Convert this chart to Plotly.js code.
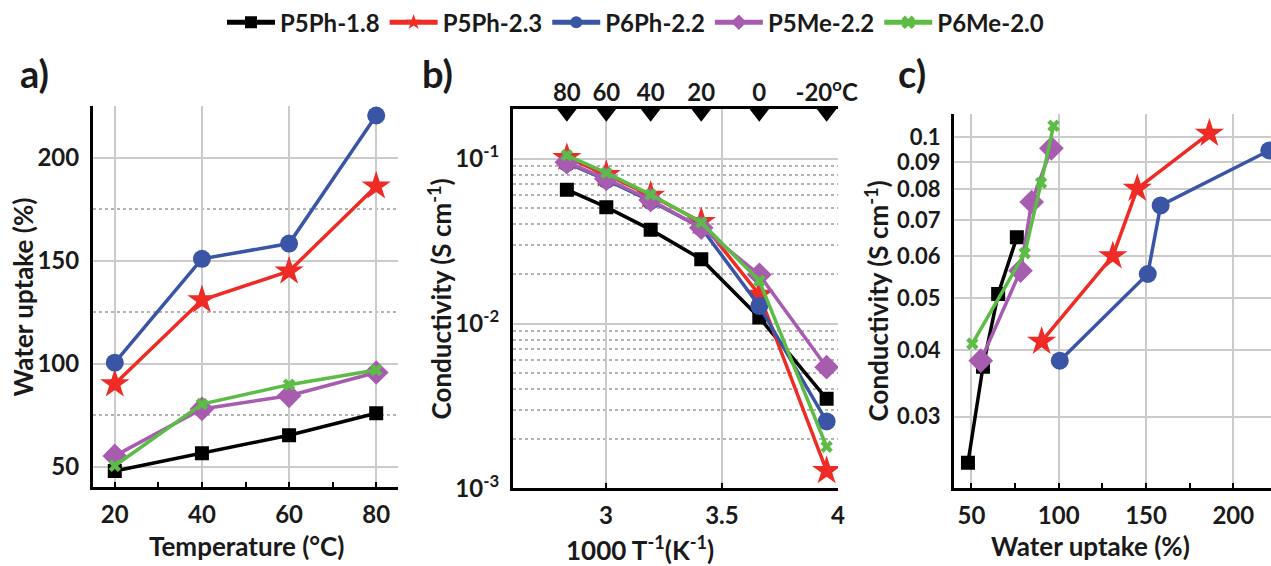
<!DOCTYPE html>
<html><head><meta charset="utf-8">
<script src="https://cdn.plot.ly/plotly-3.0.1.min.js"></script>
<style>html,body{margin:0;padding:0;background:#fff}#chart{width:1271px;height:566px}</style>
</head><body><div id="chart"></div>
<script>
// ---- data ----
const seriesNames = ['P5Ph-1.8', 'P5Ph-2.3', 'P6Ph-2.2', 'P5Me-2.2', 'P6Me-2.0'];

// panel a: water uptake (%) vs temperature (°C)
const tempA = [20, 40, 60, 80];
const uptakeP5Ph18 = [48, 56.6, 65.3, 76];
const uptakeP5Ph23 = [90.2, 131, 145, 186.3];
const uptakeP6Ph22 = [100.6, 151, 158.4, 220.6];
const uptakeP5Me22 = [55.3, 78.1, 84.5, 95.8];
const uptakeP6Me20 = [50.5, 80.5, 89.9, 97];

// panel b: conductivity (S/cm) vs 1000/T, temperatures 80,60,40,20,0,-20 °C
const tempB = [80, 60, 40, 20, 0, -20];
const invTB = [2.832, 3.002, 3.193, 3.411, 3.661, 3.951];
const condP5Ph18 = [0.065, 0.0509, 0.0372, 0.0246, 0.0109, 0.0035];
const condP5Ph23 = [0.1017, 0.0802, 0.060, 0.0415, 0.0150, 0.00128];
const condP6Ph22 = [0.0945, 0.0746, 0.0555, 0.0382, 0.0128, 0.00255];
const condP5Me22 = [0.0954, 0.0757, 0.0563, 0.0382, 0.0198, 0.00544];
const condP6Me20 = [0.1051, 0.0822, 0.0607, 0.0411, 0.0182, 0.00179];

// tick labels
const topTickText = ['80', '60', '40', '20', '0', '-20<sup>o</sup>C'];
const condTickValsB = [0.001, 0.01, 0.1];
const condTickTextB = ['10<sup>-3</sup>', '10<sup>-2</sup>', '10<sup>-1</sup>'];
const condTickValsC = [0.03, 0.04, 0.05, 0.06, 0.07, 0.08, 0.09, 0.1];
const condTickTextC = ['0.03', '0.04', '0.05', '0.06', '0.07', '0.08', '0.09', '0.1'];

// ---- styles ----
const FONT = 'Lato';
const colors = ['#000000', '#ee2b25', '#3a55a6', '#a85cb0', '#5cbc45'];
const symbols = ['square', 'star', 'circle', 'diamond', 'x'];
const sizes = [14, 22, 18, 19, 11];

const uptake = [uptakeP5Ph18, uptakeP5Ph23, uptakeP6Ph22, uptakeP5Me22, uptakeP6Me20];
const cond = [condP5Ph18, condP5Ph23, condP6Ph22, condP5Me22, condP6Me20];

const traces = [];
seriesNames.forEach((name, i) => {
  const line = {color: colors[i], width: 3.5};
  const marker = {symbol: symbols[i], size: sizes[i], color: colors[i], line: {width: 0}};
  traces.push({x: tempA, y: uptake[i], name: name, mode: 'lines+markers', line, marker,
    xaxis: 'x', yaxis: 'y', legendgroup: name, showlegend: true});
  traces.push({x: invTB, y: cond[i], name: name, mode: 'lines+markers', line, marker,
    xaxis: 'x2', yaxis: 'y2', legendgroup: name, showlegend: false});
  traces.push({x: uptake[i], y: cond[i].slice(0, 4).reverse(), name: name, mode: 'lines+markers', line, marker,
    xaxis: 'x3', yaxis: 'y3', legendgroup: name, showlegend: false});
});
// temperature markers on the top axis of panel b
traces.push({x: invTB, y: tempB.map(() => 0.99), mode: 'markers', xaxis: 'x4', yaxis: 'y4',
  marker: {symbol: 'triangle-down', size: 17, color: '#000'}, showlegend: false, cliponaxis: false, hoverinfo: 'skip'});

const W = 1271, H = 566;
const fx = (a, b) => [a / W, b / W];
const fy = (top, bot) => [1 - bot / H, 1 - top / H];

const gridMajor = {showgrid: true, gridcolor: '#cbcbcb', gridwidth: 2};
const minorGrid = {showgrid: true, griddash: 'dot', gridcolor: '#b3b3b3', gridwidth: 2};
const tickFont = {family: FONT, size: 24, color: '#1a1a1a', weight: 'bold'};
const axLine = {showline: true, linecolor: '#000', linewidth: 3, zeroline: false, automargin: false,
  ticks: 'inside', ticklen: 5, tickwidth: 2, tickcolor: '#000', tickfont: tickFont};

function ann(text, x, y, size, angle) {
  return {text: '<b>' + text + '</b>', x: x / W, y: 1 - y / H, xref: 'paper', yref: 'paper',
    xanchor: 'center', yanchor: 'middle', showarrow: false, textangle: angle || 0,
    font: {family: FONT, size: size, color: '#1a1a1a'}};
}

const layout = {
  width: W, height: H,
  margin: {l: 0, r: 0, t: 0, b: 0},
  paper_bgcolor: '#fff', plot_bgcolor: '#fff',
  font: {family: FONT, size: 24, color: '#1a1a1a', weight: 'bold'},
  showlegend: true,
  legend: {orientation: 'h', x: 0.5, xanchor: 'center', y: 1.005, yanchor: 'top',
    font: {family: FONT, size: 24, color: '#1a1a1a', weight: 'bold'}, itemwidth: 48,
    itemsizing: 'constant', tracegroupgap: 0, bgcolor: 'rgba(0,0,0,0)'},
  xaxis: Object.assign({}, axLine, gridMajor, {domain: fx(93, 398), anchor: 'y', range: [15, 85],
    tickvals: tempA, ticklabelstandoff: 4,
    minor: {tickvals: [30, 50, 70], ticks: 'inside', ticklen: 5, tickwidth: 2, tickcolor: '#000', showgrid: false}}),
  yaxis: Object.assign({}, axLine, gridMajor, {domain: fy(104, 487), anchor: 'x', range: [40, 225],
    tickvals: [50, 100, 150, 200], ticks: '', ticklabelstandoff: 6,
    minor: Object.assign({tickvals: [75, 125, 175, 225]}, minorGrid)}),
  xaxis2: Object.assign({}, axLine, gridMajor, {domain: fx(513, 838), anchor: 'y2', range: [2.6, 4],
    tickvals: [3, 3.5, 4], ticktext: ['3', '3.5', '4'], ticklabelstandoff: 4, mirror: true}),
  yaxis2: Object.assign({}, axLine, gridMajor, {domain: fy(107, 488), anchor: 'x2', type: 'log', range: [-3, -0.7],
    tickvals: condTickValsB, ticktext: condTickTextB, ticks: '', ticklabelstandoff: 6,
    minor: Object.assign({tickvals: [0.002, 0.003, 0.004, 0.005, 0.006, 0.007, 0.008, 0.009,
      0.02, 0.03, 0.04, 0.05, 0.06, 0.07, 0.08, 0.09]}, minorGrid)}),
  xaxis4: {overlaying: 'x2', anchor: 'free', position: 1 - 103 / H, side: 'top', range: [2.6, 4],
    tickvals: invTB, ticktext: topTickText,
    showline: false, ticks: '', showgrid: false, zeroline: false,
    tickfont: tickFont, automargin: false},
  yaxis4: {overlaying: 'y2', anchor: 'x4', range: [0, 1], visible: false, domain: fy(107, 488)},
  xaxis3: Object.assign({}, axLine, gridMajor, {domain: fx(954, 1271), anchor: 'y3', range: [40, 221.6],
    tickvals: [50, 100, 150, 200], ticklabelstandoff: 4,
    minor: {tickvals: [75, 125, 175], ticks: 'inside', ticklen: 5, tickwidth: 2, tickcolor: '#000', showgrid: false}}),
  yaxis3: Object.assign({}, axLine, gridMajor, {domain: fy(112, 488), anchor: 'x3', type: 'log', range: [-1.657, -0.957],
    tickvals: condTickValsC, ticktext: condTickTextC, ticks: '', ticklabelstandoff: 6,
    tickfont: {family: FONT, size: 22, color: '#1a1a1a', weight: 'bold'}}),
  annotations: [
    ann('a)', 34, 70, 38),
    ann('b)', 437, 70, 38),
    ann('c)', 912, 70, 38),
    ann('Water uptake (%)', 23, 296, 26, -90),
    ann('Temperature (°C)', 246, 546, 26),
    ann('Conductivity (S cm<sup>-1</sup>)', 440, 298, 26, -90),
    ann('1000 T<sup>-1</sup>(K<sup>-1</sup>)', 640, 548, 26),
    ann('Conductivity (S cm<sup>-1</sup>)', 877, 300, 26, -90),
    ann('Water uptake (%)', 1090, 546, 26)
  ]
};

Plotly.newPlot('chart', traces, layout, {displayModeBar: false, staticPlot: true});
</script>
</body></html>
